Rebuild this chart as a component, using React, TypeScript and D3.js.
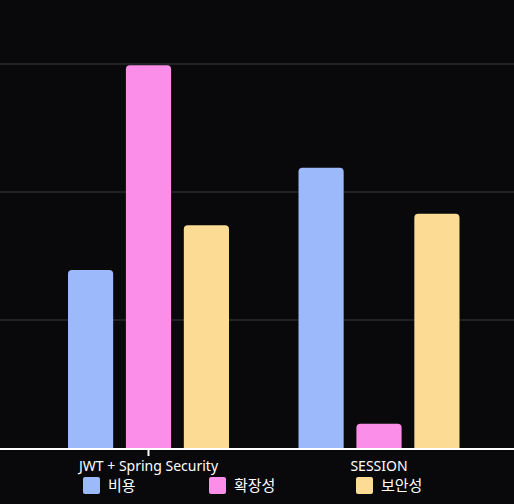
import * as d3 from "d3";

const groups = ["JWT + Spring Security", "SESSION"];
const series = ["비용", "확장성", "보안성"];
const colors = ["#9bb9fb", "#fb8ee8", "#fcdb95"];
const values = [
  [13.9, 29.9, 17.4],
  [21.9, 1.9, 18.3],
];
const ticks = [0, 10, 20, 30];

const W = 514;
const H = 504;

export default function App() {
  const x = d3.scaleBand().domain(groups).range([33, 494]).paddingInner(0);
  const inner = d3.scaleBand().domain(series).range([35, 196]).paddingInner(0.22);
  const y = d3.scaleLinear().domain([0, 30]).range([448, 64]);

  return (
    <svg
      width={W}
      height={H}
      style={{ position: "fixed", left: 0, top: 0, background: "#09090c" }}
      fontFamily="Noto Sans, Noto Sans CJK KR, sans-serif"
    >
      {ticks.slice(1).map((t) => (
        <line key={t} x1={0} x2={W} y1={y(t)} y2={y(t)} stroke="#3a3a3e" strokeWidth={1} />
      ))}
      {groups.map((g, gi) =>
        series.map((s, si) => {
          const bx = (x(g) ?? 0) + (inner(s) ?? 0);
          const top = y(values[gi][si]);
          const bw = inner.bandwidth();
          const r = 4;
          const h = 448 - top;
          return (
            <path
              key={g + s}
              fill={colors[si]}
              d={`M${bx},448 V${top + r} Q${bx},${top} ${bx + r},${top} H${bx + bw - r} Q${bx + bw},${top} ${bx + bw},${top + r} V448 Z`}
              opacity={h > 0 ? 1 : 0}
            />
          );
        })
      )}
      <line x1={0} x2={W} y1={449} y2={449} stroke="#ffffff" strokeWidth={2} />
      {groups.map((g) => {
        const cx = (x(g) ?? 0) + 115.5;
        return (
          <g key={g}>
            {g === groups[0] && <line x1={cx} x2={cx} y1={449} y2={456} stroke="#fff" strokeWidth={2} />}
            <text x={cx} y={471} fill="#ffffff" fontSize={14} textAnchor="middle">
              {g}
            </text>
          </g>
        );
      })}
      {series.map((s, i) => {
        const lx = [83, 209, 356][i];
        return (
          <g key={s}>
            <rect x={lx} y={477} width={17} height={17} rx={2} fill={colors[i]} />
            <text x={lx + 25} y={491} fill="#ffffff" fontSize={15}>
              {s}
            </text>
          </g>
        );
      })}
    </svg>
  );
}
